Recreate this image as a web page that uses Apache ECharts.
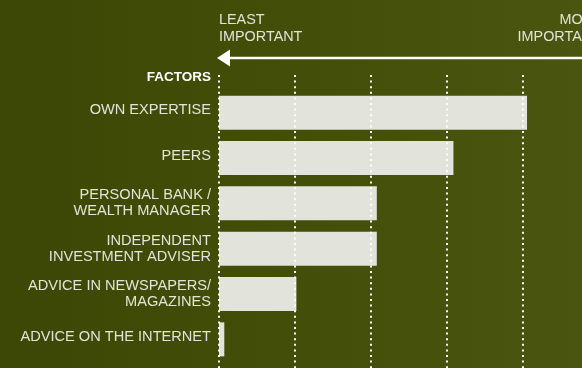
<!DOCTYPE html>
<html>
<head>
<meta charset="utf-8">
<script src="https://cdn.jsdelivr.net/npm/echarts@6/dist/echarts.min.js"></script>
<style>
  html, body { margin: 0; padding: 0; }
  #chart { width: 582px; height: 368px; }
</style>
</head>
<body>
<div id="chart"></div>
<script>
// Factors and their importance scores (0 = least important, 4 = most important)
const factors = [
  'OWN EXPERTISE',
  'PEERS',
  'PERSONAL BANK /\nWEALTH MANAGER',
  'INDEPENDENT\nINVESTMENT ADVISER',
  'ADVICE IN NEWSPAPERS/\nMAGAZINES',
  'ADVICE ON THE INTERNET'
];
const importance = [4.06, 3.09, 2.08, 2.08, 1.02, 0.07];
const scaleMax = 4.6;

const headerLeft = 'LEAST\nIMPORTANT';
const headerRight = 'MOST\nIMPORTANT';
const factorsTitle = 'FACTORS';

const FONT = '"Liberation Sans", Arial, sans-serif';
const TEXT = '#e2e4d9';
const BAR = '#e2e3db';
const DOTS = '#ffffff';

const chart = echarts.init(document.getElementById('chart'), null, { renderer: 'canvas' });

chart.setOption({
  animation: false,
  backgroundColor: {
    type: 'linear', x: 0, y: 0, x2: 1, y2: 0,
    colorStops: [
      { offset: 0, color: '#3d4706' },
      { offset: 0.5, color: '#434e08' },
      { offset: 1, color: '#4a550f' }
    ]
  },
  grid: [
    // bars
    { left: 219, right: 14, top: 90, height: 272, containLabel: false },
    // dotted guide lines, running from the header down to the bottom edge
    { left: 219, right: 14, top: 75, bottom: 0, containLabel: false }
  ],
  xAxis: [
    {
      gridIndex: 0, type: 'value', min: 0, max: scaleMax, interval: 1,
      axisLine: { show: false }, axisTick: { show: false },
      axisLabel: { show: false }, splitLine: { show: false }
    },
    {
      gridIndex: 1, type: 'value', min: 0, max: scaleMax, interval: 1, z: 5,
      axisLine: { show: false }, axisTick: { show: false },
      axisLabel: { show: false },
      splitLine: {
        show: true, showMaxLine: false,
        lineStyle: { color: DOTS, width: 2, type: [2, 3.6], cap: 'butt' }
      }
    }
  ],
  yAxis: [
    {
      gridIndex: 0, type: 'category', inverse: true, data: factors,
      axisLine: { show: false }, axisTick: { show: false }, splitLine: { show: false },
      axisLabel: {
        margin: 8,
        formatter: v => (v.indexOf('\n') >= 0 ? '{d|' + v + '}' : '{s|' + v + '}'),
        rich: {
          s: { color: TEXT, fontFamily: FONT, fontSize: 14.6, lineHeight: 16, align: 'right', padding: [0, 0, 5, 0] },
          d: { color: TEXT, fontFamily: FONT, fontSize: 14.6, lineHeight: 16, align: 'right' }
        }
      }
    },
    {
      gridIndex: 1, type: 'value', min: 0, max: 1, show: false
    }
  ],
  series: [
    {
      type: 'bar', xAxisIndex: 0, yAxisIndex: 0,
      data: importance, barWidth: 34,
      itemStyle: { color: BAR },
      silent: true
    }
  ],
  graphic: [
    {
      type: 'text', x: 219, y: 11.5, silent: true,
      style: { text: headerLeft, fill: TEXT, font: '14.4px ' + FONT, lineHeight: 17, verticalAlign: 'top' }
    },
    {
      type: 'text', x: 601, y: 11.5, silent: true,
      style: { text: headerRight, fill: TEXT, font: '14.4px ' + FONT, lineHeight: 17, align: 'right', verticalAlign: 'top' }
    },
    {
      type: 'text', x: 211, y: 77.5, silent: true,
      style: { text: factorsTitle, fill: '#ffffff', font: 'bold 13.5px ' + FONT, align: 'right', verticalAlign: 'middle' }
    },
    // direction arrow: importance increases to the right
    {
      type: 'line', silent: true,
      shape: { x1: 228, y1: 58, x2: 582, y2: 58 },
      style: { stroke: '#ffffff', lineWidth: 2.6 }
    },
    {
      type: 'polygon', silent: true,
      shape: { points: [[217, 58], [230, 49.5], [230, 66.5]] },
      style: { fill: '#ffffff' }
    }
  ]
});
</script>
</body>
</html>
